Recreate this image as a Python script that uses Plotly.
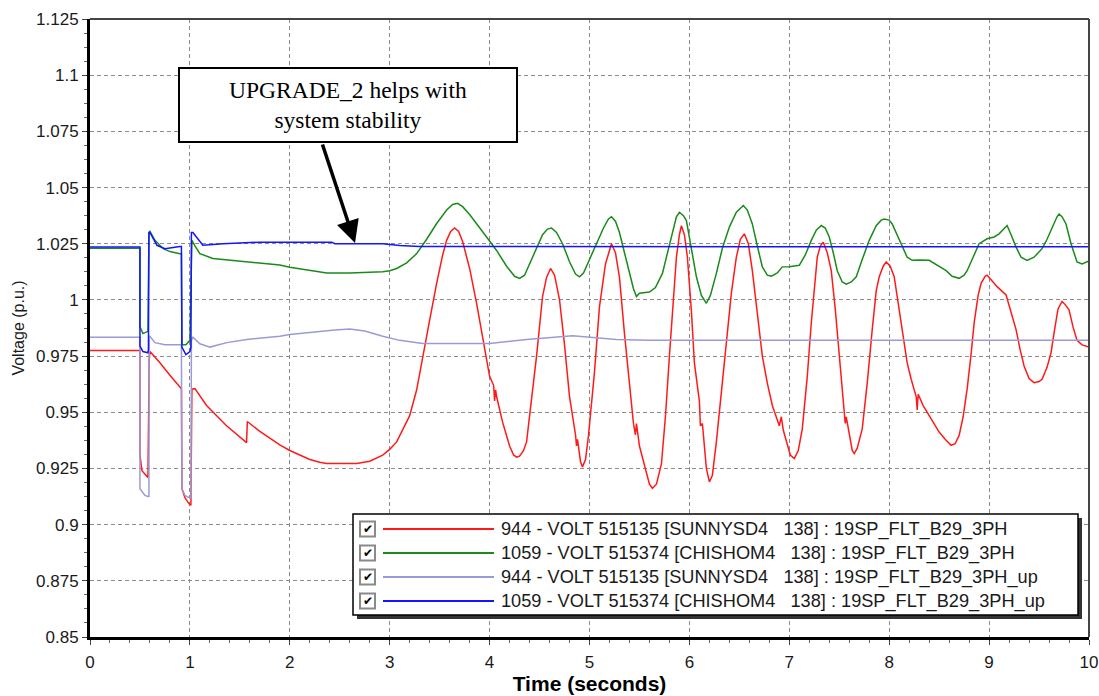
import plotly.graph_objects as go

# ---------------- data ----------------
t_red = [0, 0.5, 0.5, 0.52, 0.58, 0.59, 0.593, 0.6, 0.7, 0.8, 0.9, 0.915,
         0.92, 0.95, 0.98, 1.0, 1.01, 1.02, 1.05, 1.167, 1.367, 1.567, 1.575,
         1.7, 1.9, 2.0, 2.1, 2.2, 2.3, 2.37, 2.67, 2.8, 2.93, 3.0, 3.07, 3.13,
         3.2, 3.27, 3.33, 3.4, 3.47, 3.53, 3.57, 3.61, 3.65, 3.69, 3.73, 3.8,
         3.87, 3.94, 4.0, 4.04, 4.05, 4.06, 4.07, 4.13, 4.2, 4.24, 4.27, 4.3,
         4.34, 4.37, 4.42, 4.47, 4.53, 4.57, 4.61, 4.65, 4.7, 4.75, 4.8, 4.86,
         4.87, 4.88, 4.91, 4.93, 4.96, 4.99, 5.05, 5.1, 5.16, 5.22, 5.26, 5.3,
         5.35, 5.4, 5.44, 5.46, 5.47, 5.5, 5.56, 5.6, 5.63, 5.67, 5.72, 5.76,
         5.8, 5.84, 5.87, 5.9, 5.92, 5.95, 5.98, 6.02, 6.05, 6.1, 6.11, 6.13,
         6.17, 6.2, 6.23, 6.27, 6.32, 6.37, 6.42, 6.47, 6.51, 6.55, 6.59, 6.63,
         6.68, 6.73, 6.78, 6.83, 6.9, 6.92, 6.94, 6.97, 7.01, 7.05, 7.09, 7.13,
         7.18, 7.22, 7.25, 7.28, 7.31, 7.34, 7.38, 7.42, 7.46, 7.5, 7.55, 7.56,
         7.57, 7.6, 7.63, 7.65, 7.68, 7.73, 7.78, 7.83, 7.87, 7.9, 7.94, 7.97,
         8.01, 8.05, 8.09, 8.13, 8.18, 8.22, 8.27, 8.28, 8.29, 8.34, 8.4, 8.45,
         8.5, 8.56, 8.62, 8.66, 8.7, 8.74, 8.78, 8.82, 8.85, 8.89, 8.92, 8.96,
         8.98, 9.02, 9.08, 9.17, 9.22, 9.27, 9.31, 9.35, 9.4, 9.45, 9.5, 9.53,
         9.58, 9.62, 9.66, 9.69, 9.73, 9.76, 9.8, 9.84, 9.88, 9.93, 10.0]
v_red = [0.9775, 0.9775, 0.931, 0.924, 0.921, 0.970, 0.9735, 0.977, 0.972,
         0.9665, 0.9615, 0.9605, 0.916, 0.912, 0.910, 0.9088, 0.9088, 0.9603,
         0.9605, 0.953, 0.944, 0.9365, 0.9459, 0.9415, 0.9355, 0.933, 0.931,
         0.929, 0.9278, 0.9272, 0.9272, 0.9282, 0.9309, 0.9335, 0.9368, 0.942,
         0.9485, 0.960, 0.975, 0.991, 1.0074, 1.020, 1.0265, 1.0305, 1.032,
         1.0305, 1.026, 1.014, 0.9985, 0.981, 0.966, 0.962, 0.955, 0.960,
         0.957, 0.9456, 0.935, 0.931, 0.930, 0.9305, 0.933, 0.9368, 0.955,
         0.975, 1.0015, 1.010, 1.014, 1.011, 1.0, 0.98, 0.957, 0.940, 0.935,
         0.938, 0.928, 0.9257, 0.929, 0.9397, 0.968, 0.997, 1.016, 1.025,
         1.021, 1.010, 0.985, 0.962, 0.945, 0.940, 0.945, 0.935, 0.924, 0.918,
         0.9162, 0.918, 0.927, 0.948, 0.975, 1.002, 1.019, 1.029, 1.033, 1.029,
         1.019, 0.995, 0.972, 0.955, 0.944, 0.945, 0.925, 0.919, 0.922, 0.9368,
         0.958, 0.982, 1.003, 1.019, 1.027, 1.0294, 1.025, 1.013, 0.995, 0.975,
         0.963, 0.953, 0.944, 0.948, 0.942, 0.937, 0.931, 0.9294, 0.933,
         0.9426, 0.966, 0.9897, 1.006, 1.019, 1.024, 1.0257, 1.021, 1.013,
         0.996, 0.975, 0.950, 0.945, 0.948, 0.940, 0.933, 0.9316, 0.934,
         0.9426, 0.963, 0.9868, 1.004, 1.0103, 1.015, 1.0169, 1.015, 1.0103,
         0.998, 0.9853, 0.972, 0.9647, 0.957, 0.951, 0.958, 0.953, 0.9485,
         0.945, 0.9412, 0.938, 0.9353, 0.936, 0.9397, 0.948, 0.9603, 0.976,
         0.9897, 1.002, 1.0074, 1.0105, 1.011, 1.009, 1.0059, 1.0022, 0.995,
         0.9868, 0.978, 0.9706, 0.965, 0.9632, 0.9637, 0.9647, 0.970, 0.9765,
         0.988, 0.996, 0.9993, 0.998, 0.9956, 0.988, 0.982, 0.980, 0.979]

t_green = [0, 0.5, 0.5, 0.53, 0.58, 0.585, 0.59, 0.6, 0.65, 0.733, 0.8, 0.9,
           0.915, 0.92, 0.96, 1.0, 1.01, 1.02, 1.05, 1.1, 1.23, 1.57, 1.9,
           2.0, 2.2, 2.37, 2.6, 2.93, 3.0, 3.07, 3.17, 3.27, 3.37, 3.47, 3.57,
           3.63, 3.68, 3.73, 3.8, 3.87, 3.97, 4.07, 4.17, 4.25, 4.3, 4.35, 4.41,
           4.47, 4.53, 4.58, 4.62, 4.67, 4.73, 4.8, 4.86, 4.9, 4.94, 5.0, 5.07,
           5.14, 5.19, 5.22, 5.26, 5.3, 5.35, 5.4, 5.44, 5.47, 5.5, 5.6, 5.66,
           5.73, 5.78, 5.83, 5.87, 5.9, 5.94, 5.97, 6.02, 6.07, 6.12, 6.17,
           6.21, 6.27, 6.33, 6.4, 6.47, 6.54, 6.58, 6.63, 6.68, 6.73, 6.78,
           6.82, 6.88, 6.93, 7.0, 7.1, 7.16, 7.22, 7.27, 7.32, 7.36, 7.4, 7.44,
           7.48, 7.53, 7.57, 7.62, 7.67, 7.73, 7.8, 7.87, 7.92, 7.95, 8.0, 8.03,
           8.08, 8.13, 8.18, 8.23, 8.3, 8.4, 8.5, 8.57, 8.63, 8.7, 8.75, 8.78,
           8.84, 8.9, 8.98, 9.05, 9.1, 9.15, 9.18, 9.22, 9.27, 9.32, 9.38, 9.45,
           9.53, 9.58, 9.63, 9.68, 9.7, 9.73, 9.77, 9.82, 9.88, 9.93, 10.0]
v_green = [1.023, 1.023, 0.988, 0.985, 0.986, 1.0, 1.030, 1.0305, 1.0265,
           1.0228, 1.0215, 1.0205, 1.0205, 0.980, 0.980, 0.982, 1.010, 1.0265,
           1.024, 1.0206, 1.0184, 1.017, 1.0155, 1.0145, 1.013, 1.012, 1.012,
           1.0125, 1.013, 1.014, 1.0165, 1.0206, 1.027, 1.034, 1.040, 1.0425,
           1.043, 1.0415, 1.038, 1.034, 1.028, 1.022, 1.015, 1.0105, 1.0096,
           1.011, 1.017, 1.0235, 1.029, 1.0315, 1.032, 1.030, 1.025, 1.017,
           1.0115, 1.0103, 1.012, 1.018, 1.025, 1.032, 1.036, 1.037, 1.035,
           1.030, 1.021, 1.0118, 1.005, 1.0015, 1.003, 1.0035, 1.0055, 1.0118,
           1.021, 1.0309, 1.037, 1.039, 1.0375, 1.0353, 1.023, 1.0103, 1.002,
           0.9985, 1.002, 1.0118, 1.023, 1.0324, 1.039, 1.042, 1.040, 1.0338,
           1.024, 1.0147, 1.011, 1.0106, 1.012, 1.0147, 1.0148, 1.0154, 1.020,
           1.0265, 1.031, 1.0331, 1.032, 1.028, 1.021, 1.013, 1.008, 1.007,
           1.008, 1.0103, 1.018, 1.0265, 1.033, 1.0355, 1.036, 1.0355, 1.0338,
           1.029, 1.0243, 1.019, 1.0176, 1.0178, 1.0176, 1.015, 1.013, 1.0105,
           1.0096, 1.011, 1.013, 1.019, 1.025, 1.0272, 1.028, 1.0294, 1.032,
           1.0331, 1.029, 1.0235, 1.019, 1.0176, 1.019, 1.0228, 1.027, 1.0324,
           1.037, 1.0382, 1.037, 1.0338, 1.025, 1.0169, 1.016, 1.0173]

t_purple = [0, 0.5, 0.5, 0.55, 0.58, 0.59, 0.592, 0.6, 0.65, 0.75, 0.9, 0.915,
            0.92, 0.95, 1.0, 1.01, 1.015, 1.03, 1.1, 1.2, 1.37, 1.57, 1.9, 2.0,
            2.15, 2.3, 2.45, 2.6, 2.75, 2.93, 3.1, 3.33, 4.0, 4.37, 4.83, 5.27,
            5.6, 10.0]
v_purple = [0.9834, 0.9834, 0.916, 0.913, 0.9125, 0.9125, 0.9838, 0.9838,
            0.981, 0.980, 0.980, 0.980, 0.916, 0.913, 0.9118, 0.9118, 0.982,
            0.9834, 0.9805, 0.979, 0.981, 0.9824, 0.9838, 0.9846, 0.9853, 0.986,
            0.9866, 0.987, 0.9862, 0.9838, 0.982, 0.9806, 0.9806, 0.9824,
            0.9841, 0.9824, 0.982, 0.982]

t_blue = [0, 0.5, 0.5, 0.53, 0.58, 0.585, 0.59, 0.6, 0.67, 0.75, 0.9, 0.915,
          0.92, 0.96, 1.0, 1.01, 1.015, 1.03, 1.13, 1.33, 1.7, 2.42, 2.45, 2.93,
          3.1, 3.3, 10.0]
v_blue = [1.0235, 1.0235, 0.9794, 0.977, 0.9765, 0.978, 1.030, 1.030, 1.0243,
          1.0228, 1.0238, 1.0238, 0.979, 0.9757, 0.977, 0.979, 1.030, 1.030,
          1.0243, 1.025, 1.0257, 1.0257, 1.025, 1.025, 1.0242, 1.0238, 1.0236]

series_names = [
    "944 - VOLT 515135 [SUNNYSD4\u00a0\u00a0\u00a0138] : 19SP_FLT_B29_3PH",
    "1059 - VOLT 515374 [CHISHOM4\u00a0\u00a0\u00a0138] : 19SP_FLT_B29_3PH",
    "944 - VOLT 515135 [SUNNYSD4\u00a0\u00a0\u00a0138] : 19SP_FLT_B29_3PH_up",
    "1059 - VOLT 515374 [CHISHOM4\u00a0\u00a0\u00a0138] : 19SP_FLT_B29_3PH_up",
]
series_colors = ["#ff1a1a", "#1a8a1a", "#9a9ad6", "#1414ff"]

y_ticks = [0.85, 0.875, 0.9, 0.925, 0.95, 0.975, 1.0, 1.025, 1.05, 1.075, 1.1, 1.125]
y_ticktext = ["0.85", "0.875", "0.9", "0.925", "0.95", "0.975", "1", "1.025",
              "1.05", "1.075", "1.1", "1.125"]
x_ticks = list(range(0, 11))

# ---------------- figure ----------------
W, H = 1099, 696
ML, MR, MT, MB = 90, 10, 19, 59
PW, PH = W - ML - MR, H - MT - MB


def px(x):
    return (x - ML) / PW


def py(y):
    return (H - MB - y) / PH


fig = go.Figure()
all_t = [t_red, t_green, t_purple, t_blue]
all_v = [v_red, v_green, v_purple, v_blue]
for tt, vv, nm, col in zip(all_t, all_v, series_names, series_colors):
    fig.add_trace(go.Scatter(x=tt, y=vv, mode="lines", name=nm,
                             line=dict(color=col, width=1.5), showlegend=False))

shapes = []
annotations = []

# top / right thin border
shapes.append(dict(type="line", xref="paper", yref="paper", x0=0, x1=1, y0=1, y1=1,
                   line=dict(color="#444444", width=2)))
shapes.append(dict(type="line", xref="paper", yref="paper", x0=1, x1=1, y0=0, y1=1,
                   line=dict(color="#444444", width=2)))

# legend box with shadow
lx0, lx1, ly0, ly1 = 353, 1078, 514, 615
shapes.append(dict(type="rect", xref="paper", yref="paper",
                   x0=px(lx0 + 4), x1=px(lx1 + 4), y0=py(ly1 + 4), y1=py(ly0 + 4),
                   fillcolor="#333333", line=dict(width=0), layer="above"))
shapes.append(dict(type="rect", xref="paper", yref="paper",
                   x0=px(lx0), x1=px(lx1), y0=py(ly1), y1=py(ly0),
                   fillcolor="white", line=dict(color="black", width=1.5), layer="above"))
row_y = [529, 553, 577, 601]
for ry, nm, col in zip(row_y, series_names, series_colors):
    # checkbox
    shapes.append(dict(type="rect", xref="paper", yref="paper",
                       x0=px(360), x1=px(375), y0=py(ry + 7.5), y1=py(ry - 7.5),
                       fillcolor="white", line=dict(color="#8a8a8a", width=2), layer="above"))
    annotations.append(dict(xref="paper", yref="paper", x=px(367.5), y=py(ry),
                            text="<b>✔</b>", showarrow=False, xanchor="center", yanchor="middle",
                            font=dict(family="DejaVu Sans", size=12, color="black")))
    shapes.append(dict(type="line", xref="paper", yref="paper",
                       x0=px(383), x1=px(494), y0=py(ry), y1=py(ry),
                       line=dict(color=col, width=2), layer="above"))
    annotations.append(dict(xref="paper", yref="paper", x=px(499), y=py(ry),
                            text=nm, showarrow=False, xanchor="left", yanchor="middle",
                            font=dict(family="Liberation Sans, Arial", size=18.2, color="#1a1a1a")))

# callout box and arrow
annotations.append(dict(x=2.583, y=1.0867, xref="x", yref="y",
                        text="UPGRADE_2 helps with<br>system stability",
                        showarrow=False, width=336, height=72, align="center", valign="middle",
                        bgcolor="white", bordercolor="black", borderwidth=2, borderpad=0,
                        font=dict(family="Liberation Serif, Times New Roman", size=23.5, color="black")))
annotations.append(dict(x=2.653, y=1.0253, xref="x", yref="y",
                        ax=2.322, ay=1.0698, axref="x", ayref="y",
                        text="", showarrow=True, arrowhead=2, arrowsize=1.3, arrowwidth=3.5,
                        arrowcolor="black", standoff=0))

fig.update_layout(
    width=W, height=H,
    margin=dict(l=ML, r=MR, t=MT, b=MB, autoexpand=False),
    paper_bgcolor="white", plot_bgcolor="white",
    showlegend=False,
    shapes=shapes, annotations=annotations,
    font=dict(family="Liberation Sans, Arial", color="#1a1a1a"),
)
fig.update_xaxes(
    range=[0, 10], tickvals=x_ticks, ticks="outside", ticklen=5, tickwidth=1,
    tickcolor="#444", tickfont=dict(size=17, color="#1a1a1a"), ticklabelstandoff=3,
    showline=True, linecolor="black", linewidth=3, automargin=False,
    showgrid=True, gridcolor="#8c8c8c", gridwidth=1, griddash="4px,3px",
    zeroline=False,
    minor=dict(dtick=0.2, ticks="outside", ticklen=3, tickcolor="#666", showgrid=False),
    title=dict(text="<b>Time (seconds)</b>", font=dict(size=21, color="black"), standoff=2),
)
fig.update_yaxes(
    range=[0.85, 1.125], tickvals=y_ticks, ticktext=y_ticktext, ticks="outside",
    ticklen=5, tickwidth=1, tickcolor="#444", tickfont=dict(size=17, color="#1a1a1a"),
    showline=True, linecolor="black", linewidth=3, automargin=False,
    showgrid=True, gridcolor="#8c8c8c", gridwidth=1, griddash="4px,3px",
    zeroline=False,
    minor=dict(dtick=0.00625, tick0=0.85, ticks="outside", ticklen=3, tickcolor="#666",
               showgrid=False),
    title=dict(text="Voltage (p.u.)", font=dict(size=16, color="#1a1a1a"), standoff=8),
)

fig.write_html("out.html", config={"displayModeBar": False},
               post_script="document.body.style.margin='0';document.body.style.overflow='hidden';")
